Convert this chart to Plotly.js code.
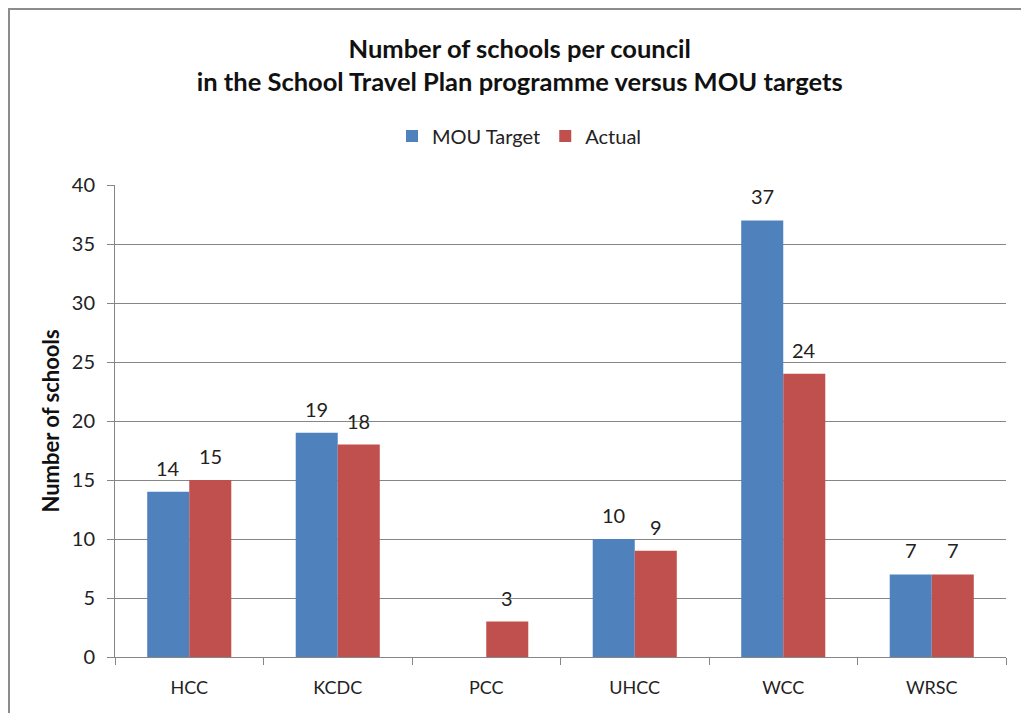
<!DOCTYPE html>
<html>
<head>
<meta charset="utf-8">
<script src="https://cdn.plot.ly/plotly-3.0.1.min.js"></script>
<style>
  body { margin: 0; background: #fff; }
  #frame { position: absolute; left: 8px; top: 8px; width: 1040px; height: 740px; border: 2px solid #8c8c8c; box-sizing: border-box; }
  #myDiv { position: absolute; left: 0; top: 0; width: 1021px; height: 713px; }
</style>
</head>
<body>
<div id="frame"></div>
<div id="myDiv"></div>
<script>
var councils = ['HCC', 'KCDC', 'PCC', 'UHCC', 'WCC', 'WRSC'];
var mouTarget = [14, 19, 0, 10, 37, 7];
var actual = [15, 18, 3, 9, 24, 7];

var labelFont = { family: 'Lato, sans-serif', size: 20, color: '#222' };

var trace1 = {
  x: councils,
  y: mouTarget,
  type: 'bar',
  name: 'MOU Target',
  marker: { color: '#4F81BD', line: { width: 0 } }
};

var trace2 = {
  x: councils,
  y: actual,
  type: 'bar',
  name: 'Actual',
  marker: { color: '#C0504D', line: { width: 0 } }
};

var data = [trace1, trace2];

// value labels above each bar (skip zero values)
var annotations = [];
function addLabels(vals, shift) {
  vals.forEach(function (v, i) {
    if (!v) return;
    annotations.push({
      x: councils[i], y: v, xref: 'x', yref: 'y',
      text: String(v), showarrow: false,
      xshift: shift, yshift: 24, yanchor: 'middle',
      font: labelFont
    });
  });
}
addLabels(mouTarget, -21);
addLabels(actual, 21);

var layout = {
  width: 1021,
  height: 713,
  paper_bgcolor: 'rgba(0,0,0,0)',
  plot_bgcolor: '#fff',
  margin: { l: 115, r: 15, t: 185, b: 56 },
  font: { family: 'Lato, sans-serif', size: 18, color: '#222' },
  title: {
    text: 'Number of schools per council<br>in the School Travel Plan programme versus MOU targets',
    font: { family: 'Lato, sans-serif', size: 25.5, color: '#111', weight: 'bold' },
    x: 0.509,
    xanchor: 'center',
    y: 0.919,
    yanchor: 'middle'
  },
  barmode: 'group',
  bargap: 0.434,
  bargroupgap: 0,
  showlegend: true,
  legend: {
    orientation: 'h',
    x: 0.454,
    xanchor: 'center',
    y: 1.104,
    yanchor: 'middle',
    font: { family: 'Lato, sans-serif', size: 20, color: '#222' },
    itemwidth: 30
  },
  annotations: annotations,
  xaxis: {
    tickson: 'boundaries',
    ticks: 'outside',
    ticklen: 7,
    tickcolor: '#868686',
    showline: true,
    linecolor: '#868686',
    linewidth: 1,
    showgrid: false,
    ticklabelstandoff: 14,
    tickfont: { size: 18 }
  },
  yaxis: {
    range: [0, 40],
    dtick: 5,
    ticks: 'outside',
    ticklen: 7,
    tickcolor: '#868686',
    showline: true,
    linecolor: '#868686',
    gridcolor: '#868686',
    gridwidth: 1,
    zeroline: false,
    ticklabelstandoff: 8,
    tickfont: { size: 20 },
    title: {
      text: 'Number of schools',
      font: { family: 'Lato, sans-serif', size: 22, color: '#111', weight: 'bold' },
      standoff: 6
    }
  }
};

Plotly.newPlot('myDiv', data, layout, { displayModeBar: false });
</script>
</body>
</html>
